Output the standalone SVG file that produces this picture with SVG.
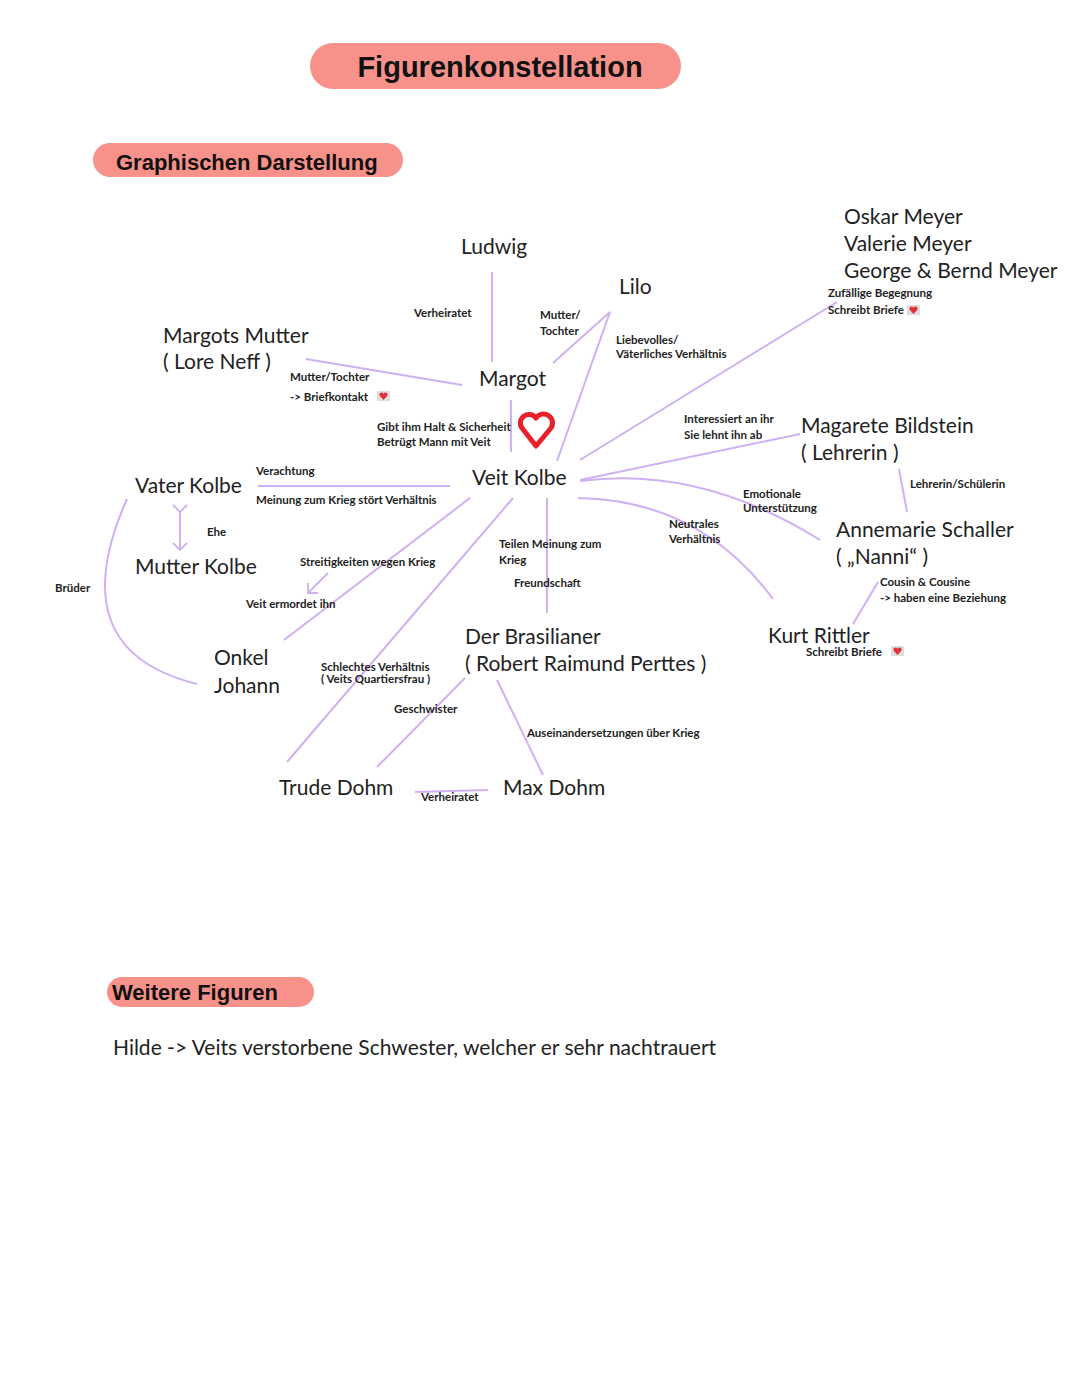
<svg xmlns="http://www.w3.org/2000/svg" width="1080" height="1394" viewBox="0 0 1080 1394">
<style>
.pill{fill:#f7918a}
.h{font-family:"Liberation Sans",Arial,sans-serif;font-weight:bold;fill:#111}
.n{font-family:Lato,"Open Sans",sans-serif;font-size:21px;fill:#222}
.l{font-family:Lato,"Noto Sans",sans-serif;font-size:11.5px;font-weight:bold;fill:#222}
.c{stroke:#cfb0f2;stroke-width:2;fill:none}
</style>
<defs>
<marker id="a" markerWidth="16" markerHeight="16" refX="8" refY="8" orient="auto" markerUnits="userSpaceOnUse"><path d="M1,1 L8,8 L1,15" fill="none" stroke="#cfb0f2" stroke-width="1.8"/></marker>
<g id="hi"><rect x="0" y="0" width="13" height="10" fill="#ddd"/><path d="M6.5,9 L2.5,4.5 A2,2 0 0 1 6.5,3 A2,2 0 0 1 10.5,4.5 Z" fill="#e0303a"/></g>
</defs>
<rect width="1080" height="1394" fill="#fff"/>
<g id="title"><rect class="pill" x="310" y="43" width="371" height="46" rx="23"/><text class="h" x="500" y="77" font-size="29" text-anchor="middle">Figurenkonstellation</text></g>
<g id="sub1"><rect class="pill" x="93" y="143" width="310" height="34" rx="17"/><text class="h" x="116" y="170" font-size="22">Graphischen Darstellung</text></g>
<g id="sub2"><rect class="pill" x="107" y="977" width="207" height="30" rx="15"/><text class="h" x="112" y="1000" font-size="22">Weitere Figuren</text></g>
<text class="n" x="113" y="1055">Hilde -&gt; Veits verstorbene Schwester, welcher er sehr nachtrauert</text>

<g id="connectors">
<path class="c" d="M492,272 L492,362"/>
<path class="c" d="M553,363 L610,312 L557,461"/>
<path class="c" d="M306,359 L462,385"/>
<path class="c" d="M511,400 L511,452"/>
<path class="c" d="M580,460 L837,302"/>
<path class="c" d="M580,480 L800,434"/>
<path class="c" d="M580,481 Q700,465 820,540"/>
<path class="c" d="M578,498 Q700,500 773,599"/>
<path class="c" d="M899,469 L907,512"/>
<path class="c" d="M878,582 L853,624"/>
<path class="c" d="M258,486 L450,486"/>
<path class="c" d="M180,512 L180,550" marker-start="url(#a)" marker-end="url(#a)"/>
<path class="c" d="M127,499 Q60,650 197,684"/>
<path class="c" d="M470,498 L284,640"/>
<path class="c" d="M328,573 L308,593" marker-end="url(#a)"/>
<path class="c" d="M513,498 L287,762"/>
<path class="c" d="M547,498 L547,613"/>
<path class="c" d="M465,678 L377,767"/>
<path class="c" d="M497,680 L543,775"/>
<path class="c" d="M415,792 L488,790"/>
</g>

<g id="heart"><path d="M536,446 L522,428 A8,8 0 0 1 536,418 A8,8 0 0 1 551,428 Z" fill="none" stroke="#e8202a" stroke-width="5" stroke-linejoin="round"/></g>

<g id="ludwig"><text class="n" x="461" y="254">Ludwig</text></g>
<g id="lilo"><text class="n" x="619" y="294">Lilo</text></g>
<g id="meyer"><text class="n" x="844" y="224">Oskar Meyer</text><text class="n" x="844" y="251">Valerie Meyer</text><text class="n" x="844" y="278">George &amp; Bernd Meyer</text></g>
<g id="lore"><text class="n" x="163" y="343">Margots Mutter</text><text class="n" x="163" y="369">( Lore Neff )</text></g>
<g id="margot"><text class="n" x="479" y="386">Margot</text></g>
<g id="magarete"><text class="n" x="801" y="433">Magarete Bildstein</text><text class="n" x="801" y="460">( Lehrerin )</text></g>
<g id="vater"><text class="n" x="135" y="493">Vater Kolbe</text></g>
<g id="veit"><text class="n" x="472" y="485">Veit Kolbe</text></g>
<g id="annemarie"><text class="n" x="836" y="537">Annemarie Schaller</text><text class="n" x="836" y="564">( „Nanni“ )</text></g>
<g id="mutter"><text class="n" x="135" y="574">Mutter Kolbe</text></g>
<g id="onkel"><text class="n" x="214" y="665">Onkel</text><text class="n" x="214" y="693">Johann</text></g>
<g id="brasilianer"><text class="n" x="465" y="644">Der Brasilianer</text><text class="n" x="465" y="671">( Robert Raimund Perttes )</text></g>
<g id="kurt"><text class="n" x="768" y="643">Kurt Rittler</text></g>
<g id="trude"><text class="n" x="279" y="795">Trude Dohm</text></g>
<g id="max"><text class="n" x="503" y="795">Max Dohm</text></g>

<g id="labels">
<text class="l" x="414" y="317" font-size="14">Verheiratet</text>
<text class="l" x="540" y="319">Mutter/</text><text class="l" x="540" y="335">Tochter</text>
<text class="l" x="616" y="344" font-size="10.5">Liebevolles/</text><text class="l" x="616" y="358" font-size="10.5">Väterliches Verhältnis</text>
<text class="l" x="828" y="297" font-size="10.5">Zufällige Begegnung</text><text class="l" x="828" y="314" font-size="10.5">Schreibt Briefe</text><use href="#hi" x="907" y="305"/>
<text class="l" x="290" y="381">Mutter/Tochter</text><text class="l" x="290" y="401">-&gt; Briefkontakt</text><use href="#hi" x="377" y="391"/>
<text class="l" x="377" y="431" font-size="10.5">Gibt ihm Halt &amp; Sicherheit</text><text class="l" x="377" y="446" font-size="10.5">Betrügt Mann mit Veit</text>
<text class="l" x="684" y="423">Interessiert an ihr</text><text class="l" x="684" y="439">Sie lehnt ihn ab</text>
<text class="l" x="256" y="475" font-size="10.5">Verachtung</text>
<text class="l" x="256" y="504" font-size="10.5">Meinung zum Krieg stört Verhältnis</text>
<text class="l" x="743" y="498" font-size="10.5">Emotionale</text><text class="l" x="743" y="512" font-size="10.5">Unterstützung</text>
<text class="l" x="910" y="488" font-size="10.5">Lehrerin/Schülerin</text>
<text class="l" x="669" y="528">Neutrales</text><text class="l" x="669" y="543">Verhältnis</text>
<text class="l" x="207" y="536" font-size="13">Ehe</text>
<text class="l" x="499" y="548">Teilen Meinung zum</text><text class="l" x="499" y="564">Krieg</text>
<text class="l" x="300" y="566">Streitigkeiten wegen Krieg</text>
<text class="l" x="55" y="592">Brüder</text>
<text class="l" x="514" y="587">Freundschaft</text>
<text class="l" x="880" y="586">Cousin &amp; Cousine</text><text class="l" x="880" y="602">-&gt; haben eine Beziehung</text>
<text class="l" x="246" y="608">Veit ermordet ihn</text>
<text class="l" x="806" y="656">Schreibt Briefe</text><use href="#hi" x="891" y="646"/>
<text class="l" x="321" y="671" font-size="8.5">Schlechtes Verhältnis</text><text class="l" x="321" y="683" font-size="8.5">( Veits Quartiersfrau )</text>
<text class="l" x="394" y="713">Geschwister</text>
<text class="l" x="527" y="737">Auseinandersetzungen über Krieg</text>
<text class="l" x="421" y="801">Verheiratet</text>
</g>
</svg>
